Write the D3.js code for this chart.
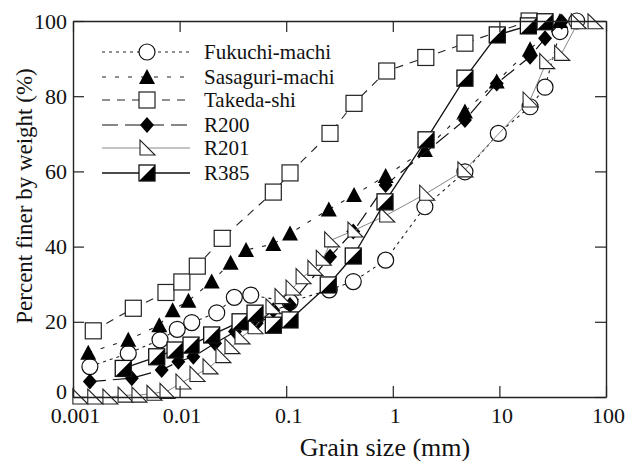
<!DOCTYPE html>
<html>
<head>
<meta charset="utf-8">
<script src="https://cdn.jsdelivr.net/npm/d3@7"></script>
<style>
  body { margin: 0; background: #fff; }
</style>
</head>
<body>
<svg width="639" height="464"></svg>
<script>
// Datos (tamano en mm, porcentaje que pasa)
const seriesNames = ["Fukuchi-machi", "Sasaguri-machi", "Takeda-shi", "R200", "R201", "R385"];

const fukuchiSize = [0.00144, 0.0033, 0.00655, 0.0095, 0.013, 0.0223, 0.0326, 0.0465, 0.1086, 0.2535, 0.4257, 0.857, 2.0, 4.75, 9.77, 19.4, 26.8, 37, 53.1];
const fukuchiPct  = [8.1, 11.6, 15.2, 18, 19.8, 22.4, 26.5, 27.1, 25.3, 28.5, 30.7, 36.4, 50.6, 59.9, 70.1, 77.2, 82.4, 97.2, 100];

const sasaguriSize = [0.00139, 0.0033, 0.00645, 0.0086, 0.0121, 0.02, 0.0301, 0.042, 0.0757, 0.1086, 0.251, 0.433, 0.857, 2.0, 4.75, 9.44, 19.4, 37];
const sasaguriPct  = [11.8, 15.2, 19.1, 23.1, 25.6, 30.7, 35.7, 39.1, 40.7, 43.5, 49.9, 53.7, 58.8, 65.7, 75.9, 83.9, 92.5, 100];

const takedaSize = [0.00155, 0.00368, 0.00745, 0.0105, 0.01466, 0.0251, 0.0757, 0.1086, 0.2576, 0.4325, 0.877, 2.04, 4.75, 19];
const takedaPct  = [17.6, 23.6, 27.8, 30.6, 34.8, 42.2, 54.5, 59.6, 70.1, 78.1, 86.7, 90.3, 94.1, 100];

const r200Size = [0.00144, 0.00356, 0.00679, 0.00973, 0.01346, 0.0215, 0.0331, 0.0528, 0.0757, 0.1086, 0.2576, 0.4257, 0.857, 4.75, 9.44, 19.4, 26.8, 38.4];
const r200Pct  = [4.1, 5, 7.2, 9.4, 10.7, 14.3, 17.4, 19.6, 23.1, 24.5, 37.3, 44, 56.4, 73.7, 83.4, 90.5, 95.4, 99.8];

const r201Size = [0.00116, 0.0016, 0.00222, 0.00308, 0.00416, 0.00575, 0.00762, 0.01076, 0.01456, 0.0193, 0.0255, 0.031, 0.0385, 0.051, 0.0752, 0.0914, 0.116, 0.144, 0.186, 0.2228, 0.267, 0.4416, 0.877, 2.08, 4.75, 19.4, 27.8, 38.4, 55, 78.9];
const r201Pct  = [0, 0, 0, 0.5, 0.5, 1, 1.5, 4, 6, 8, 11, 13.4, 16, 18.7, 24, 26.7, 29, 32, 34.2, 36.9, 41.8, 44.4, 48.4, 54.2, 60.4, 79, 89.2, 91.4, 99.8, 99.8];

const r385Size = [0.00296, 0.0061, 0.00906, 0.0128, 0.02, 0.0369, 0.051, 0.0757, 0.1086, 0.248, 0.4257, 0.845, 2.05, 4.75, 9.55, 18.7, 26.8];
const r385Pct  = [7.6, 10.7, 12.5, 13.8, 16.5, 20, 22.3, 19.1, 20.5, 29.8, 37.5, 51.9, 68.4, 84.8, 96.3, 98.7, 99.8];

const xTicks = [0.001, 0.01, 0.1, 1, 10, 100];
const xTickLabels = ["0.001", "0.01", "0.1", "1", "10", "100"];
const yTicks = [0, 20, 40, 60, 80, 100];

const FONT = "'Liberation Serif', 'DejaVu Serif', serif";

const svg = d3.select("svg");

const x = d3.scaleLog().domain([0.001, 100]).range([73, 606]);
const y = d3.scaleLinear().domain([0, 100]).range([397, 21]);

// Estilo de cada serie
const styles = [
  { name: seriesNames[0], size: fukuchiSize,  pct: fukuchiPct,  dash: "3,4",  stroke: "#222", width: 1.1, marker: "circle" },
  { name: seriesNames[1], size: sasaguriSize, pct: sasaguriPct, dash: "4,9",  stroke: "#222", width: 1.1, marker: "triangle" },
  { name: seriesNames[2], size: takedaSize,   pct: takedaPct,   dash: "8,7",  stroke: "#222", width: 1.1, marker: "square" },
  { name: seriesNames[3], size: r200Size,     pct: r200Pct,     dash: "16,7", stroke: "#111", width: 1.2, marker: "diamond" },
  { name: seriesNames[4], size: r201Size,     pct: r201Pct,     dash: null,   stroke: "#888", width: 1.0, marker: "rtri" },
  { name: seriesNames[5], size: r385Size,     pct: r385Pct,     dash: null,   stroke: "#111", width: 1.3, marker: "half" }
];

// Dibujar un marcador en g
function drawMarker(g, type) {
  if (type === "circle") {
    g.append("circle").attr("r", 8).attr("fill", "#fff").attr("stroke", "#111").attr("stroke-width", 1.2);
  } else if (type === "triangle") {
    g.append("path").attr("d", "M0,-8L8,7L-8,7Z").attr("fill", "#000");
  } else if (type === "square") {
    g.append("rect").attr("x", -8).attr("y", -8).attr("width", 16).attr("height", 16)
      .attr("fill", "#fff").attr("stroke", "#222").attr("stroke-width", 1.2);
  } else if (type === "diamond") {
    g.append("path").attr("d", "M0,-8L7,0L0,8L-7,0Z").attr("fill", "#000");
  } else if (type === "rtri") {
    g.append("path").attr("d", "M-7,-8L-7,7L8,7Z").attr("fill", "#fff")
      .attr("stroke", "#222").attr("stroke-width", 1.1);
  } else if (type === "half") {
    g.append("rect").attr("x", -8).attr("y", -8).attr("width", 16).attr("height", 16).attr("fill", "#fff");
    g.append("path").attr("d", "M8,-8L8,8L-8,8Z").attr("fill", "#000");
    g.append("rect").attr("x", -8).attr("y", -8).attr("width", 16).attr("height", 16)
      .attr("fill", "none").attr("stroke", "#111").attr("stroke-width", 1.3);
  }
}

const line = d3.line().x(d => x(d[0])).y(d => y(d[1]));

// Lineas y marcadores
styles.forEach(s => {
  const pts = s.size.map((v, i) => [v, s.pct[i]]);
  svg.append("path")
    .datum(pts)
    .attr("d", line)
    .attr("fill", "none")
    .attr("stroke", s.stroke)
    .attr("stroke-width", s.width)
    .attr("stroke-dasharray", s.dash);
  pts.forEach(p => {
    const g = svg.append("g").attr("transform", `translate(${x(p[0])},${y(p[1])})`);
    drawMarker(g, s.marker);
  });
});

// Ejes con marcas hacia dentro
const axisBottom = d3.axisBottom(x).tickValues(xTicks)
  .tickFormat((d, i) => xTickLabels[i]).tickSizeInner(-11).tickSizeOuter(0).tickPadding(10);
const gx = svg.append("g").attr("transform", "translate(0,397)").call(axisBottom);
gx.selectAll("text").attr("dx", 2);

svg.append("g").attr("transform", "translate(0,21)")
  .call(d3.axisTop(x).tickValues(xTicks).tickFormat("").tickSizeInner(-11).tickSizeOuter(0));

const gy = svg.append("g").attr("transform", "translate(73,0)")
  .call(d3.axisLeft(y).tickValues(yTicks).tickSizeInner(-11).tickSizeOuter(0).tickPadding(6));
// el "0" queda un poco por encima de su marca, como en la figura
gy.selectAll(".tick text").filter(d => d === 0).attr("y", -6);

svg.append("g").attr("transform", "translate(606,0)")
  .call(d3.axisRight(y).tickValues(yTicks).tickFormat("").tickSizeInner(-11).tickSizeOuter(0));

svg.selectAll(".domain").attr("stroke", "#222").attr("stroke-width", 1.4);
svg.selectAll(".tick line").attr("stroke", "#222").attr("stroke-width", 1.2);
svg.selectAll(".tick text")
  .attr("fill", "#111")
  .attr("font-family", FONT)
  .attr("font-size", 22);
gx.attr("font-family", FONT).attr("font-size", 22);
gy.attr("font-family", FONT).attr("font-size", 22);

// Titulos de ejes
svg.append("text")
  .attr("x", 385).attr("y", 456)
  .attr("text-anchor", "middle")
  .attr("font-family", FONT)
  .attr("font-size", 26)
  .attr("fill", "#111")
  .text("Grain size (mm)");

svg.append("text")
  .attr("transform", "rotate(-90)")
  .attr("x", -196).attr("y", 32)
  .attr("text-anchor", "middle")
  .attr("font-family", FONT)
  .attr("font-size", 23)
  .attr("fill", "#111")
  .text("Percent finer by weight (%)");

// Leyenda
const legendY = [52, 77, 100, 125, 148, 173];
styles.forEach((s, i) => {
  const ly = legendY[i];
  svg.append("line")
    .attr("x1", 102).attr("x2", 190).attr("y1", ly).attr("y2", ly)
    .attr("stroke", s.stroke).attr("stroke-width", s.width)
    .attr("stroke-dasharray", s.dash);
  const g = svg.append("g").attr("transform", `translate(147,${ly})`);
  drawMarker(g, s.marker);
  svg.append("text")
    .attr("x", 204).attr("y", ly + 7)
    .attr("font-family", FONT)
    .attr("font-size", 21)
    .attr("fill", "#111")
    .text(s.name);
});
</script>
</body>
</html>
